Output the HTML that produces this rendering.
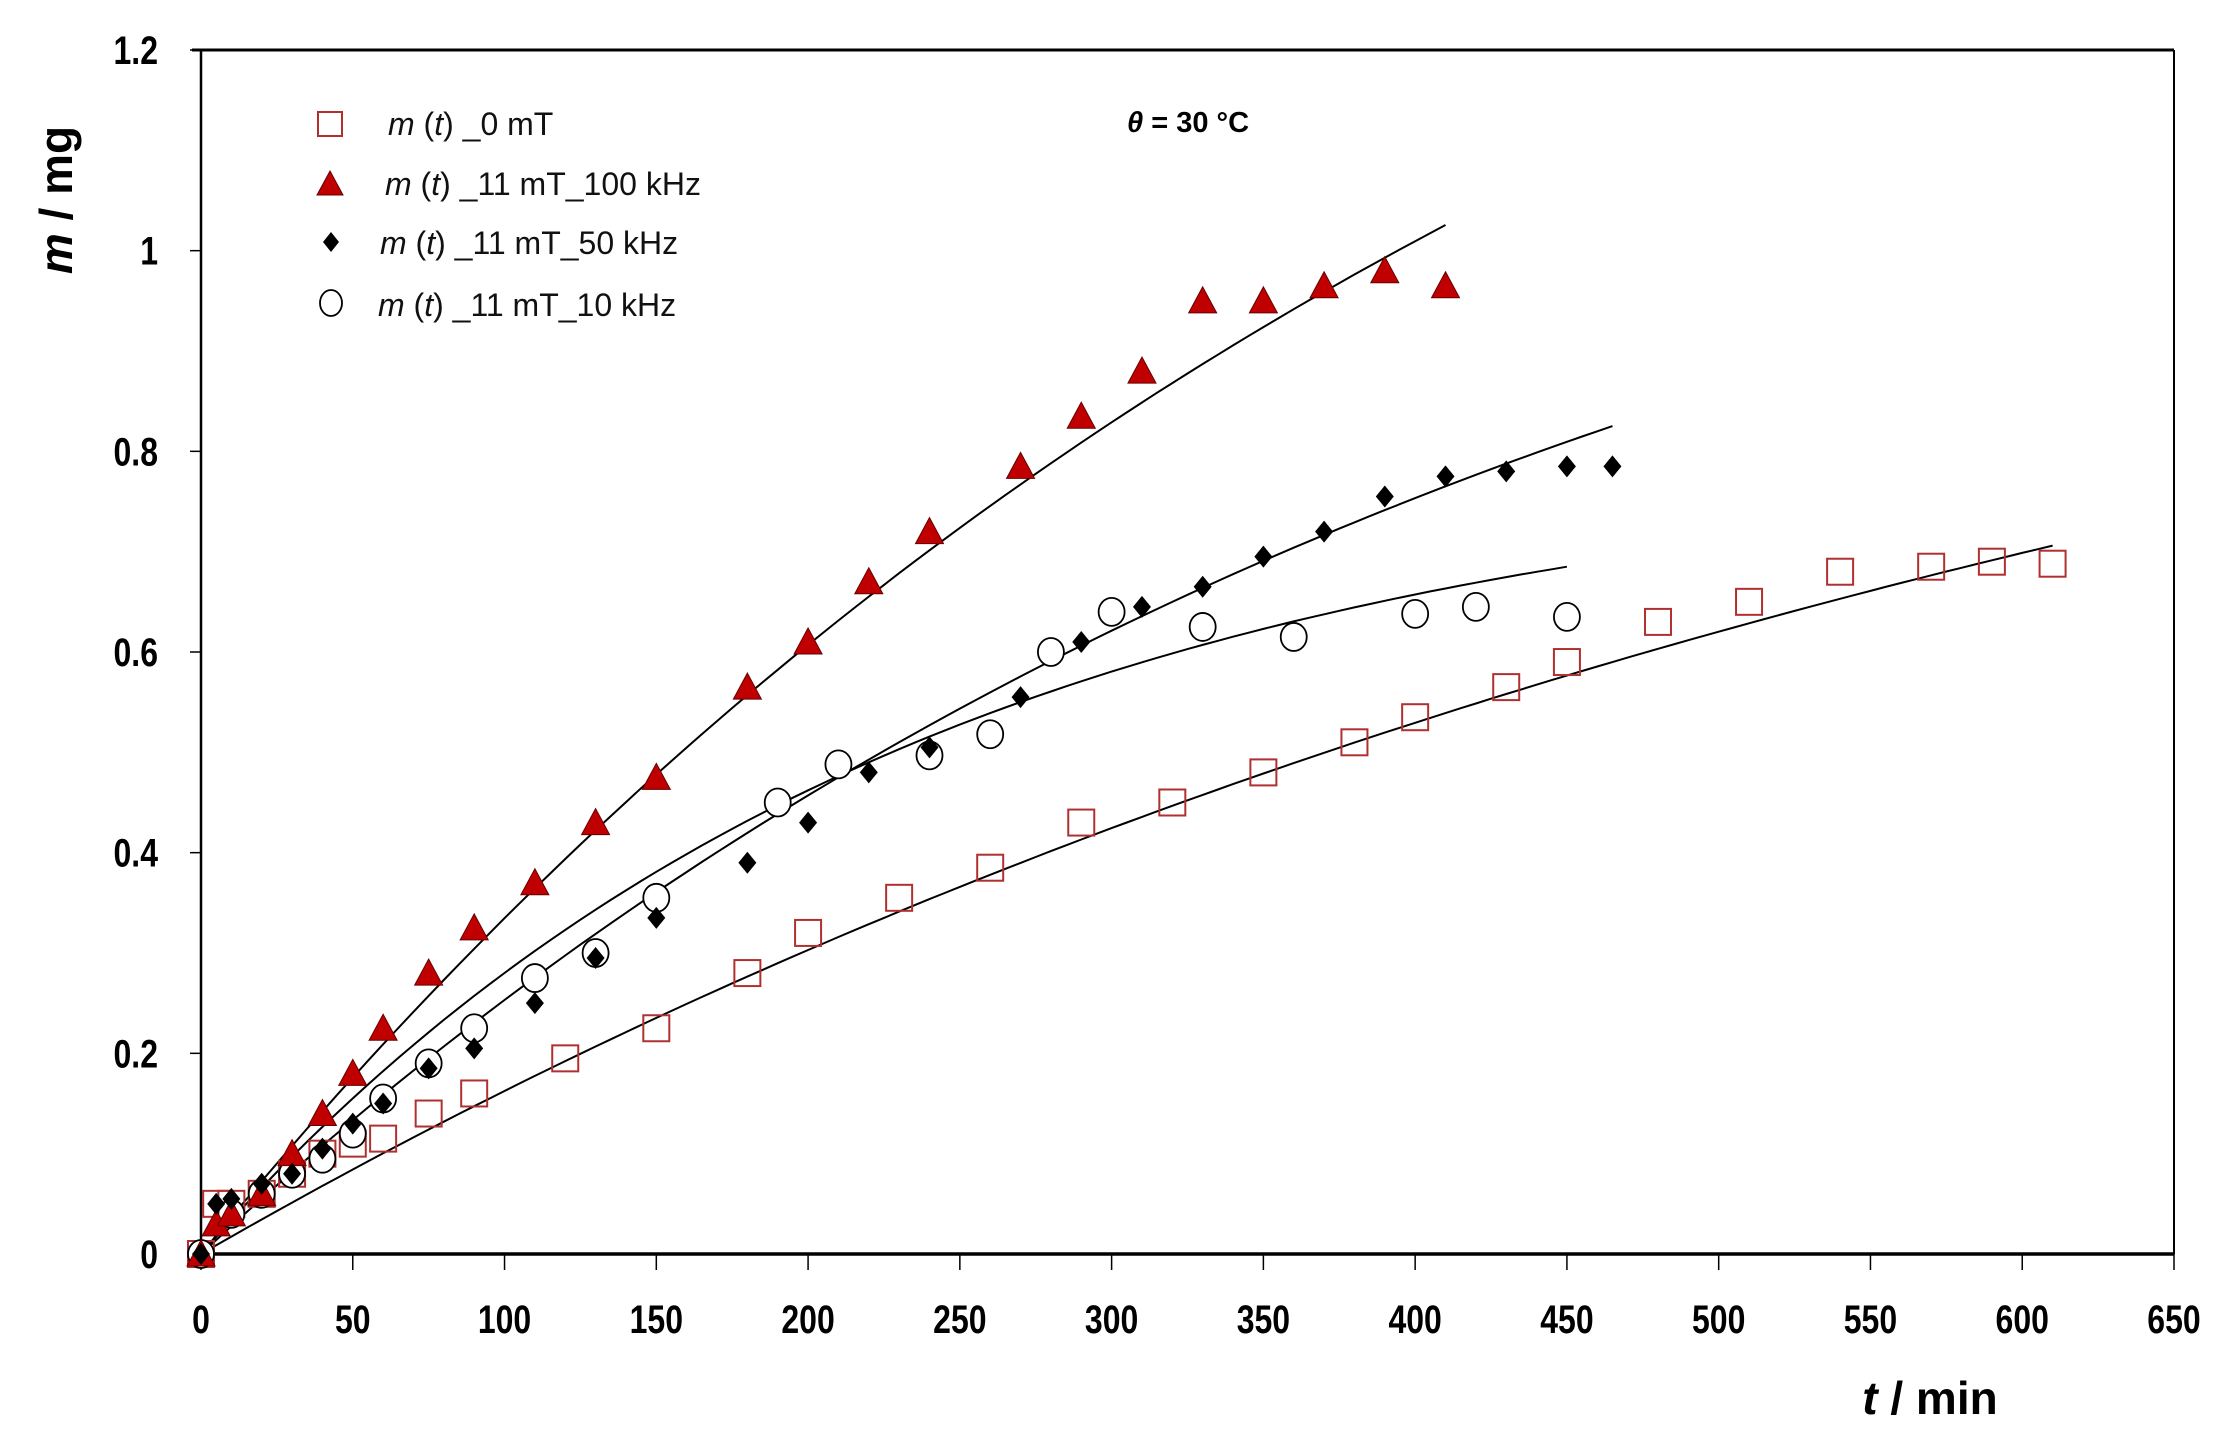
<!DOCTYPE html>
<html><head><meta charset="utf-8">
<style>html,body{margin:0;padding:0;background:#fff}svg{display:block}</style>
</head><body>
<svg id="c" xmlns="http://www.w3.org/2000/svg" width="2235" height="1449" viewBox="0 0 2235 1449" font-family="Liberation Sans, sans-serif">
<rect width="2235" height="1449" fill="#fff"/>
<g id="axes" stroke="#000" fill="none">
<line x1="192" y1="50" x2="2174" y2="50" stroke-width="3"/>
<line x1="2174" y1="50" x2="2174" y2="1254" stroke-width="2"/>
<line x1="201" y1="50" x2="201" y2="1254" stroke-width="2.5"/>
<line x1="201" y1="1254" x2="2174" y2="1254" stroke-width="3.5"/>
</g>
<g id="ticks" stroke="#000" stroke-width="1.5"></g>
<g id="lbl" font-weight="bold" font-size="40" fill="#000"></g>
<g id="fits" stroke="#000" stroke-width="2" fill="none"></g>
<g id="pts"></g>
<text x="0" y="0" font-size="46" font-weight="bold" transform="translate(72,200) rotate(-90)" text-anchor="middle"><tspan font-style="italic">m</tspan> / mg</text>
<text x="1930" y="1414" font-size="46" font-weight="bold" text-anchor="middle"><tspan font-style="italic">t</tspan> / min</text>
<text x="1127" y="132" font-size="29" font-weight="bold"><tspan font-style="italic">θ</tspan> = 30 °C</text>
<g font-size="32" fill="#111">
<rect x="318" y="112" width="24" height="24" fill="#fff" stroke="#b03030" stroke-width="2"/>
<text x="388" y="135"><tspan font-style="italic">m</tspan> (<tspan font-style="italic">t</tspan>) _0 mT</text>
<polygon points="330,171 343,195 317,195" fill="#c00000" stroke="#600" stroke-width="1"/>
<text x="385" y="195"><tspan font-style="italic">m</tspan> (<tspan font-style="italic">t</tspan>) _11 mT_100 kHz</text>
<polygon points="331,232 339,242 331,252 323,242" fill="#000"/>
<text x="380" y="254"><tspan font-style="italic">m</tspan> (<tspan font-style="italic">t</tspan>) _11 mT_50 kHz</text>
<ellipse cx="331" cy="303" rx="11" ry="13" fill="#fff" stroke="#000" stroke-width="1.8"/>
<text x="378" y="316"><tspan font-style="italic">m</tspan> (<tspan font-style="italic">t</tspan>) _11 mT_10 kHz</text>
</g>
</svg>
<script>
const X=t=>201+t*1973/650, Y=m=>1254-m*1204/1.2, NS="http://www.w3.org/2000/svg";
function el(p,n,a,txt){const e=document.createElementNS(NS,n);for(const k in a)e.setAttribute(k,a[k]);if(txt!==undefined)e.textContent=txt;document.getElementById(p).appendChild(e);return e;}
for(let t=0;t<=650;t+=50){el("ticks","line",{x1:X(t),y1:1254,x2:X(t),y2:1270});el("lbl","text",{x:0,y:0,"text-anchor":"middle",transform:`translate(${X(t)},1333) scale(0.8,1)`},String(t));}
for(let i=0;i<=6;i++){const m=i*0.2;el("ticks","line",{x1:190,y1:Y(m),x2:201,y2:Y(m)});el("lbl","text",{x:0,y:0,"text-anchor":"end",transform:`translate(158,${Y(m)+14}) scale(0.8,1)`},i==0?"0":i==5?"1":m.toFixed(1));}
function fit(a,k,tmax){let d="";for(let t=0;t<=tmax;t+=5){d+=(t?"L":"M")+X(t).toFixed(1)+","+Y(a*(1-Math.exp(-k*t))).toFixed(1);}el("fits","path",{d});}
fit(1.2,0.001455,610);fit(1.8,0.002057,410);fit(1.3,0.002166,465);fit(0.8,0.00431,450);
const sq=[[0,0],[5,0.05],[10,0.05],[20,0.06],[30,0.08],[40,0.1],[50,0.11],[60,0.115],[75,0.14],[90,0.16],[120,0.195],[150,0.225],[180,0.28],[200,0.32],[230,0.355],[260,0.385],[290,0.43],[320,0.45],[350,0.48],[380,0.51],[400,0.535],[430,0.565],[450,0.59],[480,0.63],[510,0.65],[540,0.68],[570,0.685],[590,0.69],[610,0.688]];
const tr=[[0,0],[5,0.03],[10,0.04],[20,0.06],[30,0.1],[40,0.14],[50,0.18],[60,0.225],[75,0.28],[90,0.325],[110,0.37],[130,0.43],[150,0.475],[180,0.565],[200,0.61],[220,0.67],[240,0.72],[270,0.785],[290,0.835],[310,0.88],[330,0.95],[350,0.95],[370,0.965],[390,0.98],[410,0.965]];
const di=[[0,0],[5,0.05],[10,0.055],[20,0.07],[30,0.08],[40,0.105],[50,0.13],[60,0.15],[75,0.185],[90,0.205],[110,0.25],[130,0.295],[150,0.335],[180,0.39],[200,0.43],[220,0.48],[240,0.505],[270,0.555],[290,0.61],[310,0.645],[330,0.665],[350,0.695],[370,0.72],[390,0.755],[410,0.775],[430,0.78],[450,0.785],[465,0.785]];
const ci=[[0,0],[10,0.04],[20,0.06],[30,0.08],[40,0.095],[50,0.12],[60,0.155],[75,0.19],[90,0.225],[110,0.275],[130,0.3],[150,0.355],[190,0.45],[210,0.488],[240,0.497],[260,0.518],[280,0.6],[300,0.64],[330,0.625],[360,0.615],[400,0.638],[420,0.645],[450,0.635]];
sq.forEach(([t,m])=>el("pts","rect",{x:X(t)-13,y:Y(m)-13,width:26,height:26,fill:"none",stroke:"#b03030","stroke-width":2}));
ci.forEach(([t,m])=>el("pts","ellipse",{cx:X(t),cy:Y(m),rx:13,ry:14,fill:"#fff",stroke:"#000","stroke-width":1.8}));
tr.forEach(([t,m])=>{const x=X(t),y=Y(m);el("pts","polygon",{points:`${x},${y-14} ${x+14},${y+12} ${x-14},${y+12}`,fill:"#c00000",stroke:"#600","stroke-width":1})});
di.forEach(([t,m])=>{const x=X(t),y=Y(m);el("pts","polygon",{points:`${x},${y-11} ${x+9},${y} ${x},${y+11} ${x-9},${y}`,fill:"#000"})});
</script>
</body></html>
